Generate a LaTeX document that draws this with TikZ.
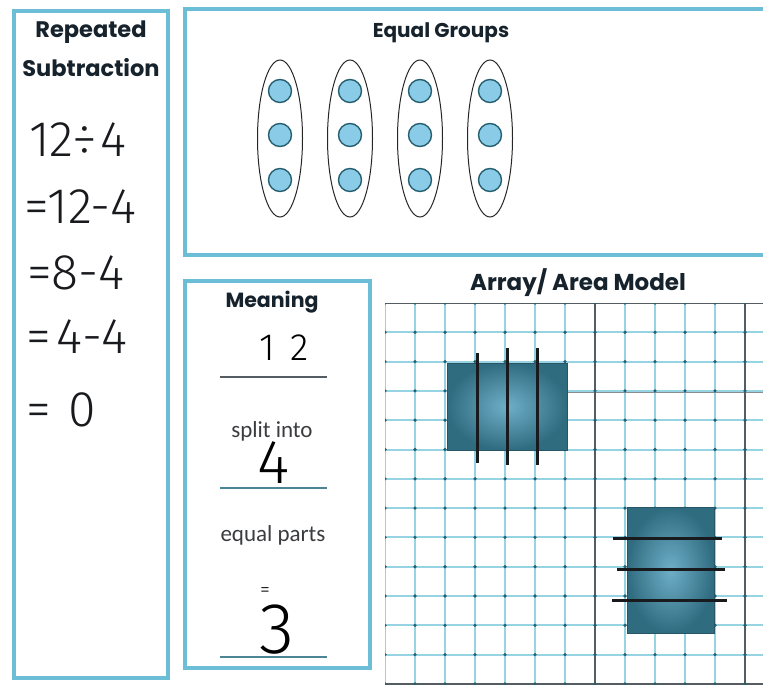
\documentclass[tikz,border=0pt]{standalone}
\usepackage{fontspec}
\setmainfont{Carlito}
\newfontfamily\titlefont{Poppins}
\newfontfamily\handfont{Fira Sans Light}
\usetikzlibrary{shapes.geometric}

\definecolor{frameblue}{RGB}{108,190,214}
\definecolor{gridblue}{RGB}{150,212,228}
\definecolor{gridgray}{RGB}{85,92,98}
\definecolor{griddot}{RGB}{40,95,110}
\definecolor{dotfill}{RGB}{138,204,232}
\definecolor{dotedge}{RGB}{38,96,112}
\definecolor{blockin}{RGB}{110,175,200}
\definecolor{blockout}{RGB}{48,108,128}
\definecolor{ink}{RGB}{24,26,30}
\definecolor{titleink}{RGB}{22,34,44}

\tikzset{
  panel/.style={draw=frameblue, line width=4pt},
  heading/.style={font=\titlefont\bfseries\fontsize{20}{22}\selectfont, text=titleink, inner sep=0pt},
  caption/.style={font=\fontsize{23}{26}\selectfont, text=ink!85, inner sep=0pt},
  hand/.style={font=\handfont\fontsize{50}{52}\selectfont, text=ink, inner sep=0pt},
  counter/.style={circle, draw=dotedge, line width=1.4pt, fill=dotfill, minimum size=23pt, inner sep=0pt},
  groupring/.style={ellipse, draw=black!85, line width=1pt, minimum width=45pt, minimum height=157pt, inner sep=0pt},
  block/.style={draw=blockout!80!black, line width=1pt, inner color=blockin, outer color=blockout},
  cut/.style={draw=ink, line width=3pt},
  answerline/.style={line width=1.6pt},
}

\begin{document}
\begin{tikzpicture}[x=1pt, y=-1pt]
\useasboundingbox (0,0) rectangle (763,685);
\fill[white] (0,0) rectangle (763,685);

\begin{scope}
\clip (0,0) rectangle (763,685);

% ---- Repeated subtraction panel ----
\draw[panel] (14,11.5) rectangle (168,678);
\node[heading, font=\titlefont\bfseries\fontsize{22.5}{24}\selectfont] (rs1) at (91,32) {Repeated};
\node[heading, font=\titlefont\bfseries\fontsize{22.5}{24}\selectfont] (rs2) at (91,68) {Subtraction};
\node[hand, anchor=west] (h1) at (29,140) {12÷\kern4pt4};
\node[hand, anchor=west] (h2) at (24,207) {=12-4};
\node[hand, anchor=west] (h3) at (27,273) {=8-4};
\node[hand, anchor=west] (h4) at (26,337) {=\kern6pt 4-4};
\node[hand, anchor=west] (h5) at (26,410) {=\kern18pt 0};

% ---- Equal groups panel ----
\draw[panel] (184.5,9) rectangle (800,255);
\node[heading] (eg) at (441,33) {Equal Groups};
\foreach \i/\x in {1/280, 2/350, 3/420, 4/490} {
  \node[groupring] (ring\i) at (\x,138.5) {};
  \node[counter] (c\i a) at (\x,91) {};
  \node[counter] (c\i b) at (\x,135) {};
  \node[counter] (c\i c) at (\x,180) {};
}

% ---- Meaning panel ----
\draw[panel] (185,280.5) rectangle (369.5,667.5);
\node[heading, font=\titlefont\bfseries\fontsize{20.5}{22}\selectfont] (mn) at (272,302) {Meaning};
\node[font=\handfont\fontsize{38}{40}\selectfont, inner sep=0pt] (dividend) at (284,348) {1\kern16pt 2};
\draw[answerline, draw=gridgray] (220,377) -- (327,377);
\node[caption] (split) at (272,431) {split into};
\node[font=\handfont\fontsize{62}{64}\selectfont, inner sep=0pt] (divisor) at (274,463) {4};
\draw[answerline, draw=frameblue!70!black] (220,488) -- (327,488);
\node[caption] (parts) at (273,535) {equal parts};
\node[font=\handfont\fontsize{20}{20}\selectfont, inner sep=0pt] (eq) at (265,592) {=};
\node[font=\handfont\fontsize{72}{74}\selectfont, inner sep=0pt] (quot) at (277,630) {3};
\draw[answerline, draw=frameblue!70!black] (220,657) -- (327,657);

% ---- Array / area model ----
\node[heading, font=\titlefont\bfseries\fontsize{23}{24}\selectfont] (am) at (578,283) {Array/ Area Model};
\begin{scope}
\clip (385,303) rectangle (800,700);
\foreach \k in {0,...,13} {
  \draw[gridblue, line width=2pt] (385+30*\k,303) -- (385+30*\k,700);
  \draw[gridblue, line width=2pt] (385,303+29.3*\k) -- (800,303+29.3*\k);
}
\draw[gridgray, line width=1.2pt] (385,303) -- (800,303);
\draw[gridgray!70, line width=0.9pt] (565,392) -- (800,392);
\draw[gridgray, line width=1.2pt] (385,684) -- (800,684);
\draw[gridgray, line width=1.1pt] (595,303) -- (595,700);
\draw[gridgray, line width=1.1pt] (745,303) -- (745,700);
\foreach \i in {0,...,13} {
  \foreach \j in {0,...,13} {
    \fill[griddot] (385+30*\i,303+29.3*\j) circle (1.8pt);
  }
}
\end{scope}

% first block: 12 cut into 4 columns
\shade[block] (447,363) rectangle (567,450);
\coordinate (a1t) at (477,353); \coordinate (a1b) at (477,463);
\coordinate (a2t) at (507,348); \coordinate (a2b) at (507,465);
\coordinate (a3t) at (537,348); \coordinate (a3b) at (537,465);
\draw[cut] (a1t) -- (a1b);
\draw[cut] (a2t) -- (a2b);
\draw[cut] (a3t) -- (a3b);

% second block: 12 cut into 4 rows
\shade[block] (627,507) rectangle (714,633);
\coordinate (b1l) at (613,538); \coordinate (b1r) at (722,538);
\coordinate (b2l) at (617,569); \coordinate (b2r) at (725,569);
\coordinate (b3l) at (612,600); \coordinate (b3r) at (727,600);
\draw[cut] (b1l) -- (b1r);
\draw[cut] (b2l) -- (b2r);
\draw[cut] (b3l) -- (b3r);
\end{scope}
\end{tikzpicture}
\end{document}
